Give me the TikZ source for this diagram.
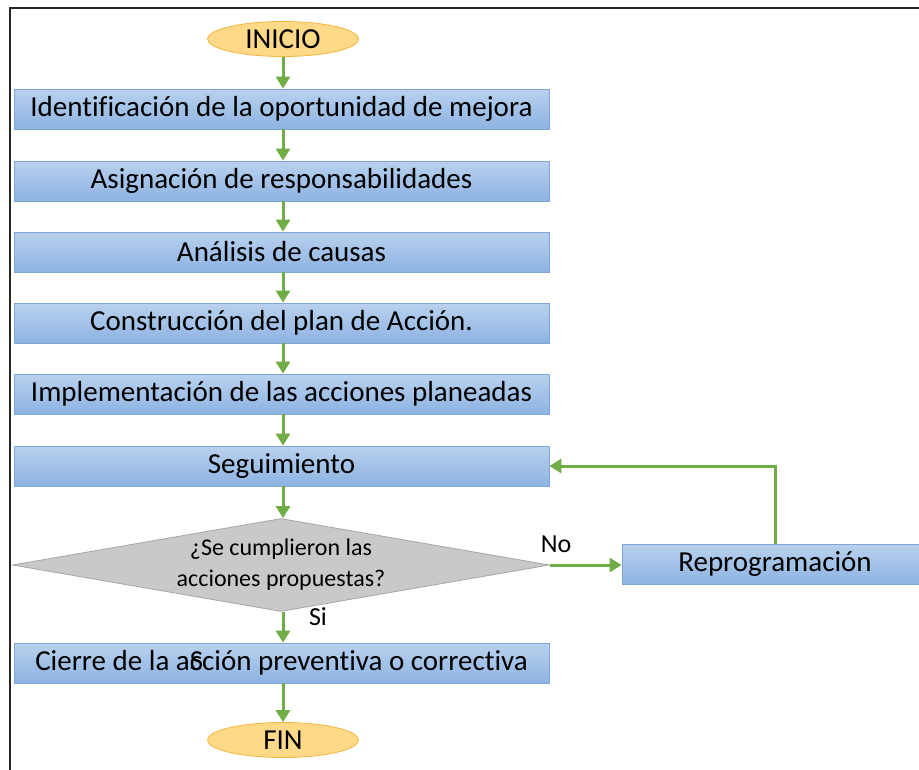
\documentclass[tikz,border=0pt]{standalone}
\usepackage{fontspec}
\setmainfont{Carlito}[Ligatures=NoCommon]
\usetikzlibrary{shapes.geometric,arrows.meta}
\definecolor{flowgreen}{HTML}{70AD47}
\definecolor{boxtop}{HTML}{B9D1EE}
\definecolor{boxbot}{HTML}{8DB3E2}
\definecolor{boxline}{HTML}{7EA6D8}
\definecolor{termfill}{HTML}{FED987}
\definecolor{termline}{HTML}{F4B63F}
\definecolor{decfill}{HTML}{C9C9C9}
\definecolor{decline}{HTML}{A6A6A6}
\tikzset{
  procbox/.style={draw=boxline, line width=0.8pt, top color=boxtop, bottom color=boxbot,
    minimum width=535pt, minimum height=40pt, inner sep=0pt,
    font=\fontsize{29}{33}\selectfont},
  termbox/.style={ellipse, draw=termline, line width=0.8pt, fill=termfill,
    minimum width=151pt, minimum height=35pt, inner sep=0pt,
    font=\fontsize{29}{33}\selectfont},
  decbox/.style={diamond, draw=decline, line width=0.8pt, fill=decfill, aspect=5.77,
    minimum width=537pt, minimum height=93pt, inner sep=0pt, align=center,
    font=\fontsize{24}{31}\selectfont},
  flow/.style={draw=flowgreen, line width=3pt, -{Triangle[width=14pt,length=12pt]}},
  lbl/.style={font=\fontsize{26}{30}\selectfont, inner sep=0pt}
}
\begin{document}
\begin{tikzpicture}[x=1pt,y=-1pt]
\useasboundingbox (0,0) rectangle (919,769);
\fill[white] (0,0) rectangle (919,769);
\draw[line width=2pt, black!85] (10,790) -- (10,8) -- (940,8);

\node[termbox] (ini) at (283,39) {INICIO};
\node[procbox] (b1) at (281.5,109) {Identificación de la oportunidad de mejora};
\node[procbox] (b2) at (281.5,181) {Asignación de responsabilidades};
\node[procbox] (b3) at (281.5,252) {Análisis de causas};
\node[procbox] (b4) at (281.5,323) {Construcción del plan de Acción.};
\node[procbox] (b5) at (281.5,394) {Implementación de las acciones planeadas};
\node[procbox] (b6) at (281.5,466) {Seguimiento};
\node[decbox] (d) at (281,565) {¿Se cumplieron las\\acciones propuestas?};
\node[procbox, minimum width=306pt] (rep) at (775,564) {Reprogramación};
\node[procbox] (b7) at (281.5,663) {Cierre de la a\rlap{S}cción preventiva o correctiva};
\node[termbox] (fin) at (283,740) {FIN};

\draw[flow] (ini) -- (b1.north -| ini);
\draw[flow] (b1.south -| ini) -- (b2.north -| ini);
\draw[flow] (b2.south -| ini) -- (b3.north -| ini);
\draw[flow] (b3.south -| ini) -- (b4.north -| ini);
\draw[flow] (b4.south -| ini) -- (b5.north -| ini);
\draw[flow] (b5.south -| ini) -- (b6.north -| ini);
\draw[flow] (b6.south -| ini) -- (d.north -| ini);
\draw[flow] (d.south -| ini) -- (b7.north -| ini);
\draw[flow] (b7.south -| ini) -- (fin);
\draw[flow] (d.east) -- (rep.west |- d.east);
\draw[flow] (rep.north) -- (rep.north |- b6.east) -- (b6.east);

\node[lbl] (no) at (556,544) {No};
\node[lbl] (si) at (318,617) {Si};
\end{tikzpicture}
\end{document}
